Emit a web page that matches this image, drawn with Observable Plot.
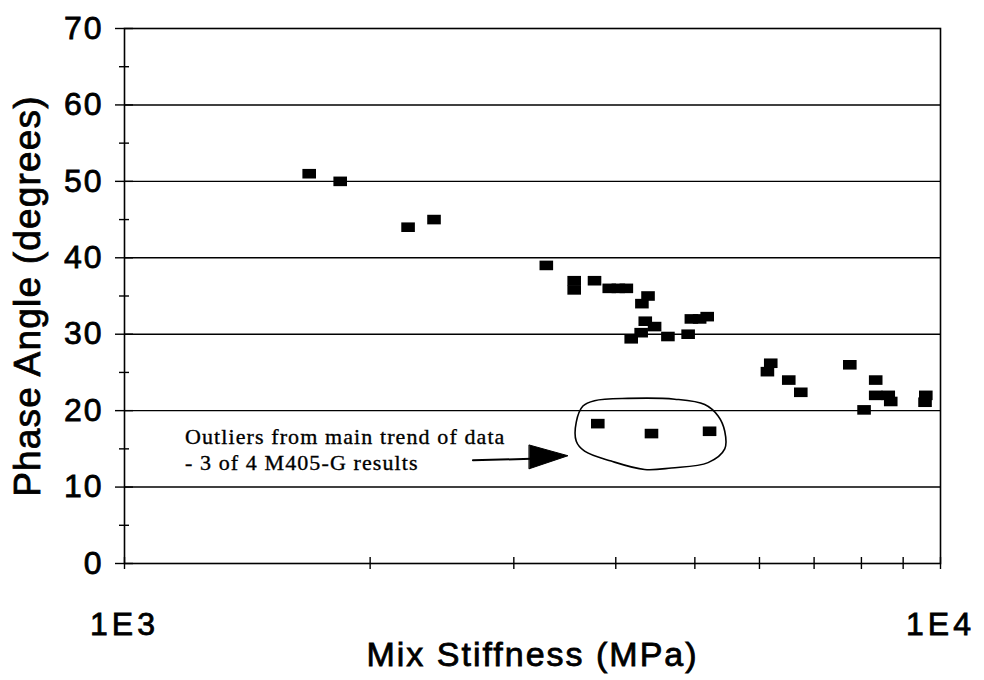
<!DOCTYPE html>
<html>
<head>
<meta charset="utf-8">
<script src="https://cdn.jsdelivr.net/npm/d3@7"></script>
<script src="https://cdn.jsdelivr.net/npm/@observablehq/plot@0.6"></script>
<style>
  html, body { margin: 0; padding: 0; background: #fff; }
  #chart svg { display: block; }
</style>
</head>
<body>
<div id="chart"></div>
<script>
// Main data (Mix stiffness in MPa, phase angle in degrees)
const stiffness = [1684, 1838, 2226, 2395, 3288, 3557, 3557, 3767, 3927, 4029, 4121,
  4381, 4306, 4347, 4463, 4297, 4178, 4634, 4906, 4951, 5068, 5177,
  6194, 6136, 6517, 6742, 7742, 8329, 8329, 8629, 8690, 8060, 9594, 9573];
const phaseAngle = [51.0, 50.0, 44.0, 45.0, 39.0, 37.0, 35.8, 37.0, 36.0, 36.0, 36.0,
  35.0, 34.0, 31.7, 31.0, 30.2, 29.4, 29.7, 30.0, 32.0, 32.0, 32.3,
  26.2, 25.1, 24.0, 22.4, 26.0, 24.0, 22.0, 22.0, 21.2, 20.1, 22.0, 21.1];
// Outliers (3 of 4 M405-G results)
const outlierStiffness = [3802, 4424, 5212];
const outlierPhase = [18.3, 17.0, 17.3];

// Axis ticks
const yMajorTicks = [0, 10, 20, 30, 40, 50, 60, 70];
const yMinorTicks = [5, 15, 25, 35, 45, 55, 65];
const yGridTicks = [10, 20, 30, 40, 50, 60];
const xTicks = [1000, 2000, 3000, 4000, 5000, 6000, 7000, 8000, 9000, 10000];
const xLabelTicks = [1000, 10000];
const xTickLabels = {1000: "1E3", 10000: "1E4"};

// Annotation (hand-drawn ring, arrow, note)
const ringX = [3646, 3767, 4140, 4724, 5141, 5339, 5440, 5440, 5190, 4679, 4339, 3949, 3663, 3578, 3578];
const ringY = [20.6, 21.3, 21.6, 21.5, 20.8, 19.3, 17.3, 15.0, 13.2, 12.5, 12.3, 13.4, 14.7, 16.0, 18.5];
const shaftX = [2673, 3151];
const shaftY = [13.5, 13.7];
const headX = [3134, 3495, 3134];
const headY = [15.5, 14.1, 12.4];
const noteLines = ["Outliers from main trend of data", "- 3 of 4 M405-G results"];
const noteX = [1186, 1186];
const noteY = [16.6, 13.2];

const points = stiffness.map((x, i) => ({x, y: phaseAngle[i]}))
  .concat(outlierStiffness.map((x, i) => ({x, y: outlierPhase[i]})));
const ring = ringX.map((x, i) => ({x, y: ringY[i]}));
const shaft = shaftX.map((x, i) => ({x, y: shaftY[i]}));
const head = headX.map((x, i) => ({x, y: headY[i]}));
const notes = noteLines.map((t, i) => ({t, x: noteX[i], y: noteY[i]}));

const rectSymbol = {
  draw(ctx) {
    const w = 6.8, h = 4.8;
    ctx.moveTo(-w, -h); ctx.lineTo(w, -h); ctx.lineTo(w, h); ctx.lineTo(-w, h); ctx.closePath();
  }
};

const chart = Plot.plot({
  width: 984,
  height: 680,
  marginLeft: 124,
  marginRight: 44,
  marginTop: 28,
  marginBottom: 117,
  style: {fontFamily: "'Liberation Sans', Arial, sans-serif", fontSize: "32px", background: "white", color: "black", overflow: "visible"},
  x: {type: "log", domain: [1000, 10000], axis: null},
  y: {domain: [0, 70], axis: null},
  marks: [
    Plot.gridY(yGridTicks, {stroke: "black", strokeOpacity: 1, strokeWidth: 1.4}),
    Plot.frame({stroke: "black", strokeWidth: 1.6}),
    Plot.axisY({anchor: "left", ticks: yMajorTicks, tickSize: 18, dx: 9, tickFormat: () => "", label: null, stroke: "black", strokeWidth: 1.4}),
    Plot.axisY({anchor: "left", ticks: yMinorTicks, tickSize: 10, dx: 5, tickFormat: () => "", label: null, stroke: "black", strokeWidth: 1.4}),
    Plot.axisY({anchor: "left", ticks: yMajorTicks, tickSize: 0, tickPadding: 21, label: null, fill: "black", fontSize: 32}),
    Plot.axisX({anchor: "bottom", ticks: xTicks, tickSize: 12, dy: -6, tickFormat: () => "", label: null, stroke: "black", strokeWidth: 1.4}),
    Plot.axisX({anchor: "bottom", ticks: xLabelTicks, tickFormat: d => xTickLabels[d], tickSize: 0, tickPadding: 49, label: null, fill: "black", fontSize: 32}),
    Plot.text(["Mix Stiffness (MPa)"], {text: d => d, frameAnchor: "bottom", dy: 92, lineAnchor: "middle", textAnchor: "middle", fontSize: 34, fill: "black"}),
    Plot.text(["Phase Angle (degrees)"], {text: d => d, frameAnchor: "left", dx: -96, rotate: -90, lineAnchor: "middle", textAnchor: "middle", fontSize: 37, fill: "black"}),
    Plot.dot(points, {x: "x", y: "y", symbol: rectSymbol, fill: "black", stroke: "none", r: 5}),
    Plot.line(ring, {x: "x", y: "y", curve: "catmull-rom-closed", stroke: "black", strokeWidth: 1.6}),
    Plot.line(shaft, {x: "x", y: "y", stroke: "black", strokeWidth: 2}),
    Plot.line(head, {x: "x", y: "y", curve: "linear-closed", fill: "black", stroke: "black", strokeWidth: 1}),
    Plot.text(notes, {x: "x", y: "y", text: "t", textAnchor: "start", lineAnchor: "middle", fontFamily: "'Liberation Serif', 'Times New Roman', serif", fontSize: 22, fill: "black"})
  ]
});

d3.select(chart).selectAll("text").each(function () {
  const t = this.textContent;
  const s = this.style;
  if (t === "Mix Stiffness (MPa)") { s.letterSpacing = "2px"; s.stroke = "black"; s.strokeWidth = "0.8px"; }
  else if (t === "Phase Angle (degrees)") { s.letterSpacing = "1.2px"; s.stroke = "black"; s.strokeWidth = "0.8px"; }
  else if (noteLines.includes(t)) { s.letterSpacing = "1.1px"; s.stroke = "black"; s.strokeWidth = "0.35px"; }
  else if (t === "1E3" || t === "1E4") { s.letterSpacing = "4px"; s.stroke = "black"; s.strokeWidth = "0.8px"; }
  else if (/^\d+$/.test(t)) { s.letterSpacing = "2px"; s.stroke = "black"; s.strokeWidth = "0.8px"; }
});

document.getElementById("chart").appendChild(chart);
</script>
</body>
</html>
